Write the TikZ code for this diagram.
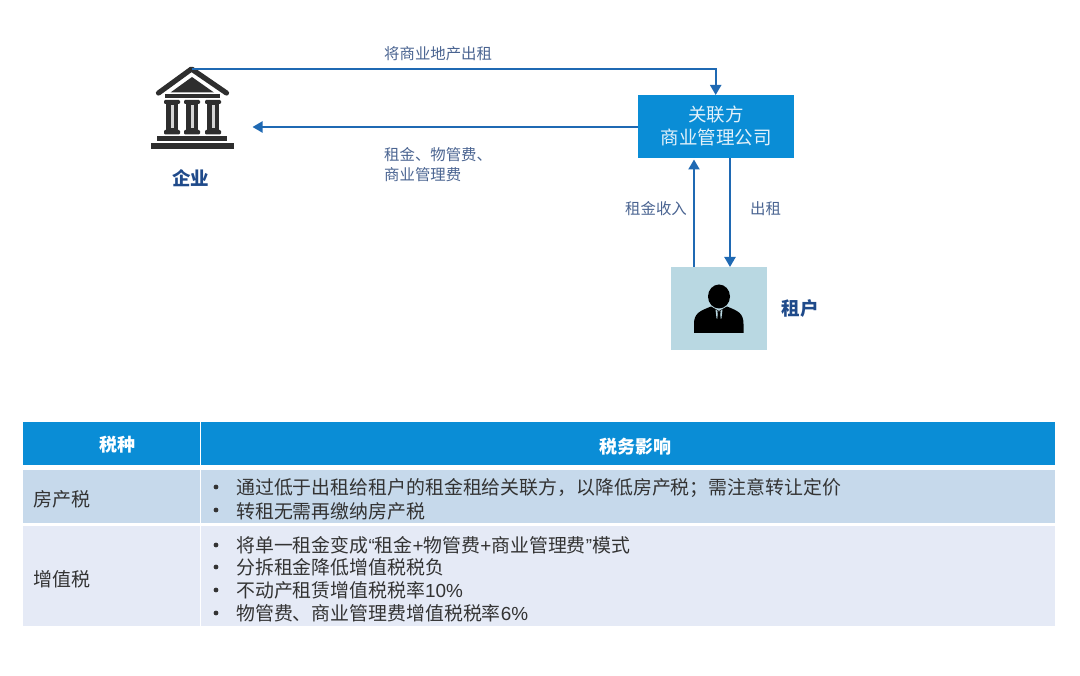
\documentclass[tikz,border=0pt]{standalone}
\usepackage{fontspec}
\setmainfont{Noto Sans CJK SC}
\newfontfamily\latinf{Liberation Sans}
\usetikzlibrary{arrows.meta}
\definecolor{hdrblue}{HTML}{0A8DD6}
\definecolor{rowa}{HTML}{C6D9EB}
\definecolor{rowb}{HTML}{E5EAF6}
\definecolor{tenantbg}{HTML}{B9D8E2}
\definecolor{arrowblue}{HTML}{1F69B3}
\definecolor{labelblue}{HTML}{4A6491}
\definecolor{namenavy}{HTML}{1F4A8A}
\definecolor{bodytxt}{HTML}{333333}
\definecolor{iconink}{HTML}{2E2E2E}
\tikzset{
  x=1pt,y=-1pt,
  flow/.style={draw=arrowblue,line width=2.1pt,-{Triangle[length=10pt,width=11pt]}},
  cell/.style={anchor=north west,inner sep=0pt,outer sep=0pt,minimum width=#1},
  edgelabel/.style={font=\fontsize{15.4}{20}\selectfont,text=labelblue,inner sep=0pt,align=left},
  namelabel/.style={font=\fontsize{18.5}{22}\selectfont\bfseries,text=namenavy,inner sep=0pt},
  hdrtext/.style={font=\fontsize{18}{22}\selectfont\bfseries,text=white,inner sep=0pt},
  celltext/.style={font=\fontsize{19}{22}\selectfont,text=bodytxt,inner sep=0pt},
  bullettext/.style={font=\fontsize{18.9}{22}\selectfont,text=bodytxt,inner sep=0pt,anchor=west},
  bulletdot/.style={circle,fill=bodytxt,inner sep=0pt,minimum size=4.8pt},
}
\begin{document}
\begin{tikzpicture}
\useasboundingbox (0,0) rectangle (1080,676);
% Table
\node[cell=177pt,minimum height=43pt,fill=hdrblue] (h1) at (23,422) {};
\node[cell=854pt,minimum height=43pt,fill=hdrblue] (h2) at (201,422) {};
\node[cell=177pt,minimum height=53pt,fill=rowa] (r1a) at (23,470) {};
\node[cell=854pt,minimum height=53pt,fill=rowa] (r1b) at (201,470) {};
\node[cell=177pt,minimum height=100pt,fill=rowb] (r2a) at (23,526) {};
\node[cell=854pt,minimum height=100pt,fill=rowb] (r2b) at (201,526) {};
\node[hdrtext] (t1) at (117,445) {税种};
\node[hdrtext] (t2) at (635,447) {税务影响};
\node[celltext,anchor=west] (t3) at (33,499) {房产税};
\node[celltext,anchor=west] (t4) at (33,579) {增值税};
\node[bulletdot] (b1) at (216,487) {};
\node[bulletdot] (b2) at (216,510) {};
\node[bulletdot] (b3) at (216,545) {};
\node[bulletdot] (b4) at (216,567) {};
\node[bulletdot] (b5) at (216,590) {};
\node[bulletdot] (b6) at (216,613) {};
\node[bullettext] (l1) at (236,488) {通过低于出租给租户的租金租给关联方，以降低房产税；需注意转让定价};
\node[bullettext] (l2) at (236,511) {转租无需再缴纳房产税};
\node[bullettext] (l3) at (236,545) {将单一租金变成{\latinf“}租金{\latinf+}物管费{\latinf+}商业管理费{\latinf”}模式};
\node[bullettext] (l4) at (236,567) {分拆租金降低增值税税负};
\node[bullettext] (l5) at (236,590) {不动产租赁增值税税率{\latinf 10\%}};
\node[bullettext] (l6) at (236,613) {物管费、商业管理费增值税税率{\latinf 6\%}};
% Company box
\node[cell=156pt,minimum height=63pt,fill=hdrblue] (co) at (638,95) {};
\node[font=\fontsize{18.5}{23}\selectfont,text=white!88!hdrblue,inner sep=0pt,align=center] (cot) at (716,126) {关联方\\商业管理公司};
% Tenant box
\node[cell=96pt,minimum height=83pt,fill=tenantbg] (ten) at (671,267) {};
\node[namelabel] (tenl) at (800,308) {租户};
% Enterprise icon
\coordinate (bankapex) at (191.5,69);
\draw[iconink,line width=5.2pt,line cap=round,line join=round] (158.5,93) -- (bankapex) -- (226.5,93);
\fill[iconink] (192,77) -- (170.5,92.5) -- (214,92.5) -- cycle;
\fill[iconink] (165,94.5) rectangle (220,98);
\foreach \cx in {172,192,213}{
  \fill[iconink,rounded corners=1.2pt] (\cx-8,100) rectangle (\cx+8,104);
  \fill[iconink] (\cx-6,103) rectangle (\cx+6,130.5);
  \fill[white!80!iconink] (\cx-1.5,105) rectangle (\cx+1.5,128.5);
  \fill[iconink,rounded corners=1.2pt] (\cx-8,130) rectangle (\cx+8,134.5);
}
\fill[iconink] (157,136.5) rectangle (227,141.5);
\fill[iconink] (151,143.5) rectangle (234,149.5);
\node[namelabel] (ent) at (190.5,178) {企业};
% Person icon
\fill[black] (694,333) -- (694,324) .. controls (694,313) and (700,311) .. (711,306.5)
  -- (719,311) -- (727,306.5) .. controls (738,311) and (743.5,313) .. (743.5,324) -- (743.5,333) -- cycle;
\fill[black] (719,296.5) ellipse [x radius=11pt,y radius=12pt];
\fill[tenantbg] (715.5,309.5) -- (719,312) -- (722.5,309.5) -- (721.5,318) -- (719,322) -- (716.5,318) -- cycle;
\fill[black] (717.3,311.5) -- (720.7,311.5) -- (720.2,314) -- (721,321) -- (719,324) -- (717,321) -- (717.8,314) -- cycle;
% Connectors
\coordinate (cotop) at (715.7,95);
\coordinate (coleft) at (638,127);
\coordinate (entright) at (252.5,127);
\coordinate (tena) at (694,267);
\coordinate (coba) at (694,159.5);
\coordinate (cobb) at (730,158);
\coordinate (tenb) at (730,267);
\draw[flow] (bankapex) -- (bankapex -| cotop) -- (cotop);
\draw[flow] (coleft) -- (entright);
\draw[flow] (tena) -- (coba);
\draw[flow] (cobb) -- (tenb);
\node[edgelabel,anchor=west] (e1) at (384,53.5) {将商业地产出租};
\node[edgelabel,anchor=west] (e2) at (384,165) {租金、物管费、\\商业管理费};
\node[edgelabel,anchor=west] (e3) at (625,208.5) {租金收入};
\node[edgelabel,anchor=west] (e4) at (750,208.5) {出租};
\end{tikzpicture}
\end{document}
